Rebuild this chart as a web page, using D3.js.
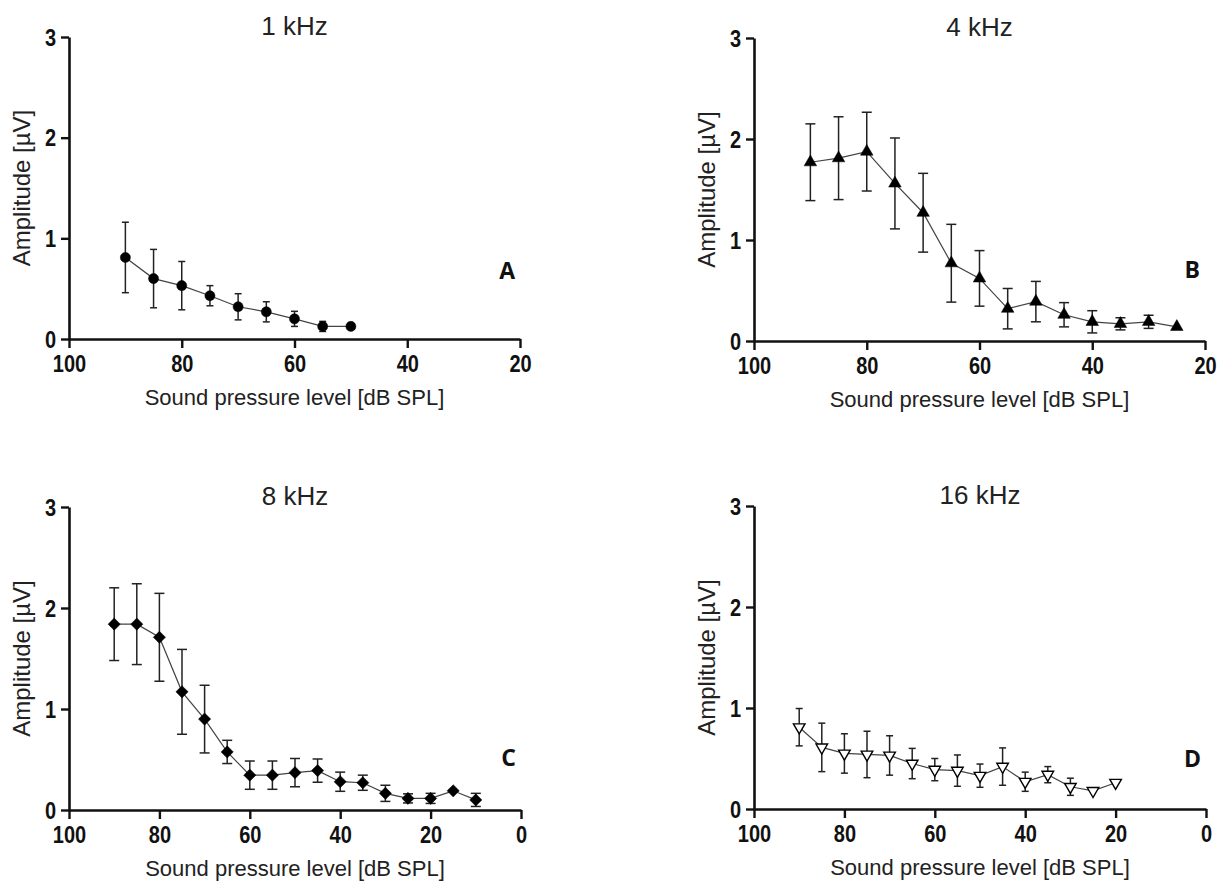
<!DOCTYPE html>
<html lang="en">
  <head>
    <meta charset="UTF-8" />
    <title>Amplitude vs sound pressure level</title>
    <script src="https://d3js.org/d3.v7.min.js"></script>
    <style>
      body { margin: 0; background: #fff; }
    </style>
  </head>
  <body>
    <div id="chart"></div>
    <script>
      // --- data ---
      const levels1k = [90, 85, 80, 75, 70, 65, 60, 55, 50];
      const amp1k = [0.81, 0.60, 0.53, 0.43, 0.32, 0.27, 0.20, 0.125, 0.125];
      const err1k = [0.35, 0.29, 0.24, 0.10, 0.13, 0.10, 0.075, 0.05, 0];

      const levels4k = [90, 85, 80, 75, 70, 65, 60, 55, 50, 45, 40, 35, 30, 25];
      const amp4k = [1.77, 1.81, 1.875, 1.56, 1.27, 0.77, 0.62, 0.32, 0.39, 0.26, 0.19, 0.17, 0.19, 0.14];
      const err4k = [0.38, 0.41, 0.39, 0.45, 0.39, 0.385, 0.275, 0.20, 0.20, 0.12, 0.11, 0.06, 0.065, 0];

      const levels8k = [90, 85, 80, 75, 70, 65, 60, 55, 50, 45, 40, 35, 30, 25, 20, 15, 10];
      const amp8k = [1.84, 1.84, 1.71, 1.17, 0.90, 0.575, 0.345, 0.345, 0.37, 0.39, 0.28, 0.27, 0.165, 0.115, 0.115, 0.19, 0.10];
      const err8k = [0.36, 0.40, 0.435, 0.42, 0.335, 0.115, 0.14, 0.14, 0.14, 0.115, 0.095, 0.075, 0.08, 0.045, 0.05, 0, 0.065];

      const levels16k = [90, 85, 80, 75, 70, 65, 60, 55, 50, 45, 40, 35, 30, 25, 20];
      const amp16k = [0.81, 0.61, 0.55, 0.54, 0.53, 0.45, 0.39, 0.38, 0.33, 0.42, 0.27, 0.34, 0.22, 0.18, 0.26];
      const err16k = [0.185, 0.24, 0.195, 0.23, 0.195, 0.15, 0.11, 0.155, 0.115, 0.185, 0.095, 0.08, 0.085, 0, 0];

      const xTicksTo20 = [100, 80, 60, 40, 20];
      const xTicksTo0 = [100, 80, 60, 40, 20, 0];
      const yTicks = [0, 1, 2, 3];

      const titles = ['1 kHz', '4 kHz', '8 kHz', '16 kHz'];
      const letters = ['A', 'B', 'C', 'D'];
      const yLabel = 'Amplitude [\u00b5V]';
      const xLabel = 'Sound pressure level [dB SPL]';

      // --- layout ---
      const panels = [
        { levels: levels1k, amp: amp1k, err: err1k, xMin: 20, ticks: xTicksTo20, left: 69, right: 520, top: 37, bottom: 339, marker: 'circle', cap: 7, letterY: 279 },
        { levels: levels4k, amp: amp4k, err: err4k, xMin: 20, ticks: xTicksTo20, left: 754, right: 1205, top: 38, bottom: 341, marker: 'triUp', cap: 10, letterY: 278 },
        { levels: levels8k, amp: amp8k, err: err8k, xMin: 0, ticks: xTicksTo0, left: 69, right: 521, top: 507, bottom: 810, marker: 'diamond', cap: 10, letterY: 766 },
        { levels: levels16k, amp: amp16k, err: err16k, xMin: 0, ticks: xTicksTo0, left: 754, right: 1206, top: 506, bottom: 809, marker: 'triDown', cap: 7, letterY: 767 }
      ];

      const svg = d3.select('#chart')
        .append('svg')
          .attr('width', 1226)
          .attr('height', 882)
          .style('font-family', '"Liberation Sans", Arial, sans-serif');

      panels.forEach((p, i) => {
        const x = d3.scaleLinear().domain([100, p.xMin]).range([p.left, p.right]);
        const y = d3.scaleLinear().domain([0, 3]).range([p.bottom, p.top]);
        const g = svg.append('g');

        // x axis
        const gx = g.append('g')
          .attr('transform', `translate(0,${p.bottom})`)
          .call(d3.axisBottom(x).tickValues(p.ticks).tickSize(9).tickSizeOuter(0).tickFormat(d3.format('d')));
        // y axis
        const gy = g.append('g')
          .attr('transform', `translate(${p.left},0)`)
          .call(d3.axisLeft(y).tickValues(yTicks).tickSize(8).tickSizeOuter(0).tickFormat(d3.format('d')));

        [gx, gy].forEach(ax => {
          ax.select('.domain').attr('stroke', '#111').attr('stroke-width', 2.6);
          ax.selectAll('.tick line').attr('stroke', '#111').attr('stroke-width', 2.4);
          ax.selectAll('.tick text')
            .attr('fill', '#111')
            .style('font-family', '"Liberation Sans", Arial, sans-serif')
            .style('font-weight', 'bold')
            .style('font-size', '23px');
        });
        // the original uses a narrow bold face: squeeze the labels horizontally
        gx.selectAll('.tick text')
          .attr('dy', null).attr('y', 0)
          .attr('transform', 'translate(0,33) scale(0.87,1)');
        gy.selectAll('.tick text')
          .attr('x', 0).attr('dy', '0.36em')
          .attr('transform', 'translate(-13,0) scale(0.87,1)');

        // title
        g.append('text')
          .attr('x', (p.left + p.right) / 2)
          .attr('y', p.top - 2)
          .attr('text-anchor', 'middle')
          .attr('fill', '#222')
          .style('font-size', '26px')
          .text(titles[i]);

        // axis labels
        g.append('text')
          .attr('transform', `translate(${p.left - 39},${(p.top + p.bottom) / 2}) rotate(-90)`)
          .attr('text-anchor', 'middle')
          .attr('fill', '#222')
          .style('font-size', '24px')
          .text(yLabel);

        g.append('text')
          .attr('x', (p.left + p.right) / 2)
          .attr('y', p.bottom + 66)
          .attr('text-anchor', 'middle')
          .attr('fill', '#222')
          .style('font-size', '22px')
          .text(xLabel);

        // panel letter
        g.append('text')
          .attr('x', p.right - 5)
          .attr('y', p.letterY)
          .attr('text-anchor', 'end')
          .attr('fill', '#111')
          .style('font-family', '"Open Sans", Lato, sans-serif')
          .style('font-weight', 'bold')
          .style('font-size', '23px')
          .text(letters[i]);

        const pts = p.levels.map((lv, k) => ({ lv, a: p.amp[k], e: p.err[k] }));

        // connecting line
        g.append('path')
          .datum(pts)
          .attr('fill', 'none')
          .attr('stroke', '#444')
          .attr('stroke-width', 1.2)
          .attr('d', d3.line().x(d => x(d.lv)).y(d => y(d.a)));

        // error bars
        const eb = g.selectAll('.eb')
          .data(pts.filter(d => d.e > 0))
          .enter()
          .append('g')
            .attr('stroke', '#222')
            .attr('stroke-width', 1.5);
        eb.append('line')
          .attr('x1', d => x(d.lv)).attr('x2', d => x(d.lv))
          .attr('y1', d => y(d.a + d.e)).attr('y2', d => y(d.a - d.e));
        eb.append('line')
          .attr('x1', d => x(d.lv) - p.cap / 2).attr('x2', d => x(d.lv) + p.cap / 2)
          .attr('y1', d => y(d.a + d.e)).attr('y2', d => y(d.a + d.e));
        eb.append('line')
          .attr('x1', d => x(d.lv) - p.cap / 2).attr('x2', d => x(d.lv) + p.cap / 2)
          .attr('y1', d => y(d.a - d.e)).attr('y2', d => y(d.a - d.e));

        // markers
        const sym = {
          circle: d3.symbol().type(d3.symbolCircle).size(80),
          triUp: d3.symbol().type(d3.symbolTriangle).size(68),
          diamond: d3.symbol().type(d3.symbolSquare).size(74),
          triDown: d3.symbol().type(d3.symbolTriangle).size(58)
        }[p.marker];
        const rot = { circle: 0, triUp: 0, diamond: 45, triDown: 180 }[p.marker];

        g.selectAll('.mk')
          .data(pts)
          .enter()
          .append('path')
            .attr('d', sym)
            .attr('transform', d => `translate(${x(d.lv)},${y(d.a)}) rotate(${rot})`)
            .attr('fill', p.marker === 'triDown' ? '#fff' : '#000')
            .attr('stroke', '#000')
            .attr('stroke-width', p.marker === 'triDown' ? 1.4 : 0.5);
      });
    </script>
  </body>
</html>
